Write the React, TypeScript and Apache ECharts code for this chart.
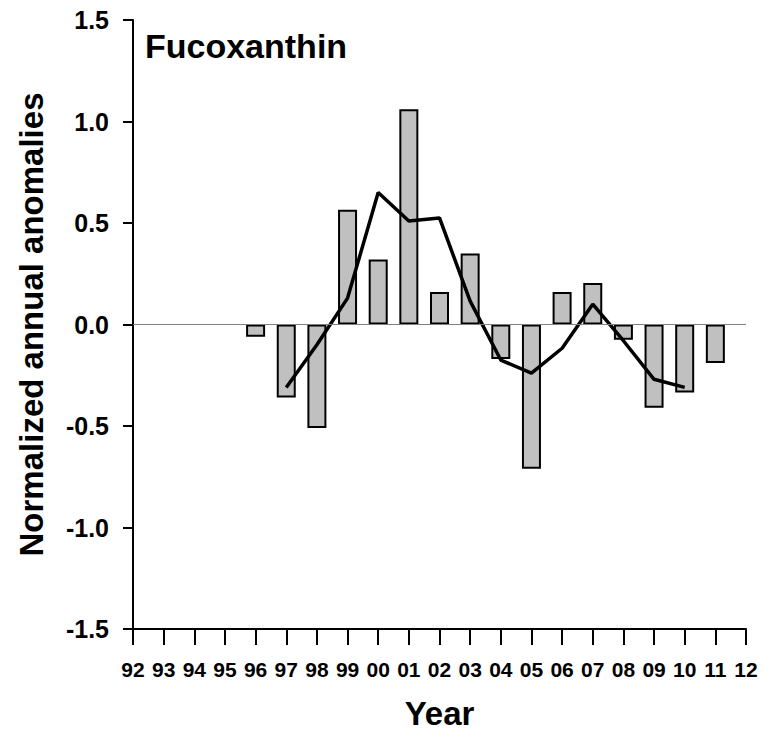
import React, { useEffect, useRef } from "react";
import * as echarts from "echarts";

const barYears = [1996, 1997, 1998, 1999, 2000, 2001, 2002, 2003, 2004, 2005, 2006, 2007, 2008, 2009, 2010, 2011];
const barValues = [-0.06, -0.36, -0.51, 0.565, 0.32, 1.06, 0.16, 0.35, -0.17, -0.71, 0.16, 0.205, -0.075, -0.41, -0.335, -0.19];
const lineYears = [1997, 1998, 1999, 2000, 2001, 2002, 2003, 2004, 2005, 2006, 2007, 2008, 2009, 2010];
const lineValues = [-0.31, -0.1, 0.13, 0.65, 0.51, 0.525, 0.115, -0.175, -0.24, -0.117, 0.1, -0.08, -0.27, -0.31];

const FONT = "'Liberation Sans', Arial, Helvetica, sans-serif";

export default function App() {
  const ref = useRef<HTMLDivElement>(null);
  useEffect(() => {
    document.body.style.margin = "0";
    const chart = echarts.init(ref.current!, null, { renderer: "svg" });
    chart.setOption({
      animation: false,
      backgroundColor: "#ffffff",
      title: {
        text: "Fucoxanthin",
        left: 145,
        top: 29,
        padding: 0,
        textStyle: { fontFamily: FONT, fontSize: 34, fontWeight: "bold", color: "#000" },
      },
      grid: { left: 133, right: 19, top: 20, bottom: 101 },
      xAxis: {
        type: "value",
        min: 1992,
        max: 2012,
        interval: 1,
        name: "Year",
        nameLocation: "middle",
        nameGap: 68,
        nameTextStyle: { fontFamily: FONT, fontSize: 33, fontWeight: "bold", color: "#000" },
        axisLine: { show: true, onZero: false, lineStyle: { color: "#000", width: 2 } },
        axisTick: { show: true, inside: false, length: 16, lineStyle: { color: "#000", width: 2 } },
        axisLabel: {
          margin: 30,
          fontFamily: FONT,
          fontSize: 21,
          fontWeight: "bold",
          color: "#000",
          formatter: (v: number) => String(v).slice(2),
        },
        splitLine: { show: false },
      },
      yAxis: {
        type: "value",
        min: -1.5,
        max: 1.5,
        interval: 0.5,
        name: "Normalized annual anomalies",
        nameLocation: "middle",
        nameGap: 85,
        nameRotate: 90,
        nameTextStyle: { fontFamily: FONT, fontSize: 33, fontWeight: "bold", color: "#000" },
        axisLine: { show: true, lineStyle: { color: "#000", width: 2 } },
        axisTick: { show: true, inside: false, length: 10, lineStyle: { color: "#000", width: 2 } },
        axisLabel: {
          margin: 24,
          fontFamily: FONT,
          fontSize: 25,
          fontWeight: "bold",
          color: "#000",
          formatter: (v: number) => v.toFixed(1),
        },
        splitLine: { show: false },
      },
      series: [
        {
          type: "bar",
          data: barYears.map((y, i) => [y, barValues[i]]),
          barWidth: 19,
          itemStyle: { color: "#c0c0c0", borderColor: "#000", borderWidth: 2 },
          markLine: {
            silent: true,
            symbol: "none",
            label: { show: false },
            lineStyle: { color: "#808080", width: 1, type: "solid" },
            data: [{ yAxis: 0 }],
          },
          z: 2,
        },
        {
          type: "line",
          data: lineYears.map((y, i) => [y, lineValues[i]]),
          showSymbol: false,
          lineStyle: { color: "#000", width: 3.5 },
          z: 3,
        },
      ],
    });
    return () => chart.dispose();
  }, []);
  return <div ref={ref} style={{ width: 765, height: 735 }} />;
}
